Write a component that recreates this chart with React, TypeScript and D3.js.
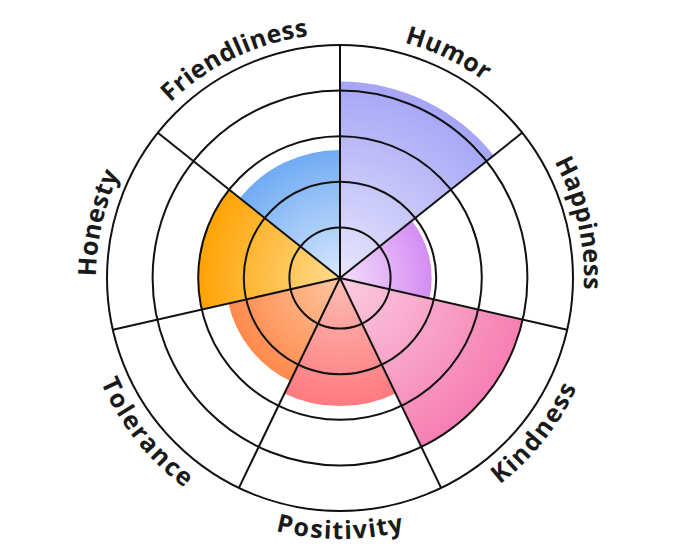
import React from "react";
import * as d3 from "d3";

const categories = ["Humor", "Happiness", "Kindness", "Positivity", "Tolerance", "Honesty", "Friendliness"];
const values = [4.2, 1.9, 4, 2.7, 2.4, 3, 2.7];
const ringTicks = [1, 2, 3, 4, 5];
const innerColors = ["#e8e6fc", "#f4dffb", "#fbcde0", "#fcbdb3", "#fdc6a0", "#ffdc8e", "#d8e8fc"];
const outerColors = ["#a6a5f6", "#d48cf3", "#f67fb1", "#ff7a80", "#ff8a4c", "#ffa305", "#70abf4"];

const W = 680;
const H = 557;
const cx = 340;
const cy = 278;

export default function App() {
  const r = d3.scaleLinear().domain([0, 5]).range([5, 233]);
  const angle = d3.scaleBand<string>().domain(categories).range([0, 2 * Math.PI]).padding(0);
  const arc = d3.arc<any>();
  const pt = (a: number, rad: number) => [Math.sin(a) * rad, -Math.cos(a) * rad];

  const labelPath = (a0: number, a1: number, flip: boolean) => {
    if (!flip) {
      const rad = 244;
      const [x0, y0] = pt(a0, rad);
      const [x1, y1] = pt(a1, rad);
      return `M${x0},${y0} A${rad},${rad} 0 0 1 ${x1},${y1}`;
    } else {
      const rad = 239;
      const [x0, y0] = pt(a1, rad);
      const [x1, y1] = pt(a0, rad);
      return `M${x0},${y0} A${rad},${rad} 0 0 0 ${x1},${y1}`;
    }
  };

  return (
    <div style={{ position: "absolute", left: 0, top: 0 }}>
      <svg width={W} height={H} viewBox={`0 0 ${W} ${H}`} style={{ display: "block", background: "#fff" }}>
        <defs>
          {categories.map((c, i) => (
            <radialGradient key={c} id={`g${i}`} gradientUnits="userSpaceOnUse" cx={0} cy={0} r={r(values[i])}>
              <stop offset="0%" stopColor={innerColors[i]} />
              <stop offset="100%" stopColor={outerColors[i]} />
            </radialGradient>
          ))}
          {categories.map((c, i) => {
            const a0 = angle(c)!;
            const a1 = a0 + angle.bandwidth();
            const mid = (a0 + a1) / 2;
            const flip = Math.cos(mid) < 0;
            return <path key={c} id={`lp${i}`} d={labelPath(a0, a1, flip)} />;
          })}
        </defs>
        <g transform={`translate(${cx},${cy})`}>
          {categories.map((c, i) => {
            const a0 = angle(c)!;
            return (
              <path
                key={c}
                d={arc({ innerRadius: 0, outerRadius: r(values[i]), startAngle: a0, endAngle: a0 + angle.bandwidth() }) as string}
                fill={`url(#g${i})`}
              />
            );
          })}
          {ringTicks.map((t) => (
            <circle key={t} r={r(t)} fill="none" stroke="#111" strokeWidth={2} />
          ))}
          {categories.map((c) => {
            const a0 = angle(c)!;
            const [x, y] = pt(a0, r(5));
            return <line key={c} x1={0} y1={0} x2={x} y2={y} stroke="#111" strokeWidth={2} />;
          })}
          {categories.map((c, i) => {
            const a0 = angle(c)!;
            const mid = a0 + angle.bandwidth() / 2;
            const flip = Math.cos(mid) < 0;
            return (
              <text
                key={c}
                fontFamily="'Open Sans', sans-serif"
                fontWeight={700}
                fontSize={25}
                fill="#1a1a1a"
                letterSpacing={0.4}
                dominantBaseline={flip ? "hanging" : "auto"}
              >
                <textPath href={`#lp${i}`} startOffset="50%" textAnchor="middle">
                  {c}
                </textPath>
              </text>
            );
          })}
        </g>
      </svg>
    </div>
  );
}
